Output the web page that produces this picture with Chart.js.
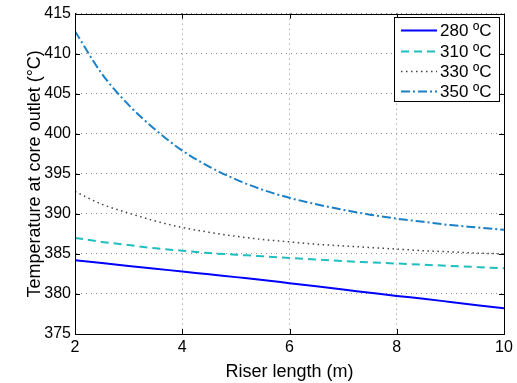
<!DOCTYPE html>
<html>
<head>
<meta charset="utf-8">
<script src="https://cdn.jsdelivr.net/npm/chart.js@4"></script>
<style>
  html, body { margin: 0; padding: 0; background: #fff; }
  #wrap { width: 517px; height: 383px; }
</style>
</head>
<body>
<div id="wrap"><canvas id="chart" width="517" height="383"></canvas></div>
<script>
// Riser length (m)
const riserLength = [2, 2.5, 3, 3.5, 4, 4.5, 5, 5.5, 6, 6.5, 7, 7.5, 8, 8.5, 9, 9.5, 10];

// Core outlet temperature (C) for each inlet temperature
const temp280 = [384.2, 383.85, 383.5, 383.15, 382.8, 382.45, 382.1, 381.75, 381.35, 380.95, 380.55, 380.15, 379.75, 379.4, 379.0, 378.6, 378.2];
const temp310 = [387.0, 386.5, 386.1, 385.7, 385.4, 385.1, 384.9, 384.7, 384.5, 384.3, 384.1, 383.95, 383.8, 383.65, 383.5, 383.35, 383.2];
const temp330 = [392.8, 391.2, 390.1, 389.1, 388.3, 387.7, 387.2, 386.8, 386.5, 386.2, 386.0, 385.8, 385.6, 385.4, 385.25, 385.1, 385.0];
const temp350 = [412.8, 407.5, 403.6, 400.5, 397.9, 395.9, 394.3, 393.0, 392.0, 391.2, 390.5, 389.9, 389.4, 389.0, 388.6, 388.3, 388.0];

const seriesLabels = ['280 ºC', '310 ºC', '330 ºC', '350 ºC'];
const xTicks = [2, 4, 6, 8, 10];
const yTicks = [375, 380, 385, 390, 395, 400, 405, 410, 415];

const FONT = 'Liberation Sans, Arial, Helvetica, sans-serif';

function toPoints(values) {
    return riserLength.map((x, i) => ({ x: x, y: values[i] }));
}

// Box, inner ticks and legend, drawn MATLAB style
const framePlugin = {
    id: 'frame',
    afterDraw(chart) {
        const ctx = chart.ctx;
        const area = chart.chartArea;
        const xs = chart.scales.x;
        const ys = chart.scales.y;

        ctx.save();
        ctx.strokeStyle = '#000';
        ctx.lineWidth = 1;
        ctx.setLineDash([]);

        // inner ticks
        ctx.beginPath();
        for (const t of xTicks) {
            const px = Math.round(xs.getPixelForValue(t)) + 0.5;
            ctx.moveTo(px, area.bottom); ctx.lineTo(px, area.bottom - 5);
            ctx.moveTo(px, area.top); ctx.lineTo(px, area.top + 5);
        }
        for (const t of yTicks) {
            const py = Math.round(ys.getPixelForValue(t)) + 0.5;
            ctx.moveTo(area.left, py); ctx.lineTo(area.left + 5, py);
            ctx.moveTo(area.right, py); ctx.lineTo(area.right - 5, py);
        }
        ctx.stroke();

        // axes box
        ctx.strokeRect(Math.round(area.left) + 0.5, Math.round(area.top) + 0.5,
            Math.round(area.right - area.left), Math.round(area.bottom - area.top));

        // legend
        const lx = 394, ly = 17, lw = 105, lh = 84;
        ctx.fillStyle = '#fff';
        ctx.fillRect(lx, ly, lw, lh);
        ctx.strokeRect(lx + 0.5, ly + 0.5, lw, lh);

        const rows = [30, 51, 71, 91];
        ctx.font = '17px ' + FONT;
        ctx.textBaseline = 'middle';
        ctx.textAlign = 'left';
        chart.data.datasets.forEach((ds, i) => {
            const y = rows[i] + 0.5;
            ctx.strokeStyle = ds.borderColor;
            ctx.lineWidth = ds.borderWidth;
            ctx.setLineDash(ds.borderDash || []);
            ctx.beginPath();
            ctx.moveTo(401, y);
            ctx.lineTo(437, y);
            ctx.stroke();
            ctx.fillStyle = '#000';
            ctx.fillText(ds.label, 440, rows[i] + 1);
        });
        ctx.restore();
    }
};

new Chart(document.getElementById('chart'), {
    type: 'line',
    data: {
        datasets: [
            {
                label: seriesLabels[0],
                data: toPoints(temp280),
                borderColor: '#0000ff',
                borderWidth: 2,
                borderDash: []
            },
            {
                label: seriesLabels[1],
                data: toPoints(temp310),
                borderColor: '#1fbfbf',
                borderWidth: 2,
                borderDash: [8, 5]
            },
            {
                label: seriesLabels[2],
                data: toPoints(temp330),
                borderColor: '#444444',
                borderWidth: 1.5,
                borderDash: [1.5, 3.5]
            },
            {
                label: seriesLabels[3],
                data: toPoints(temp350),
                borderColor: '#1a80c8',
                borderWidth: 2,
                borderDash: [9, 3, 2, 3]
            }
        ]
    },
    options: {
        responsive: false,
        animation: false,
        cubicInterpolationMode: 'monotone',
        elements: { point: { radius: 0 } },
        layout: { padding: { top: 11, right: 13, left: 0, bottom: 0 } },
        plugins: {
            legend: { display: false },
            tooltip: { enabled: false }
        },
        scales: {
            x: {
                type: 'linear',
                min: 2,
                max: 10,
                afterFit(scale) { scale.height = 49; },
                afterBuildTicks(scale) { scale.ticks = xTicks.map(v => ({ value: v })); },
                ticks: {
                    color: '#000',
                    font: { family: FONT, size: 16 },
                    padding: 4,
                    maxRotation: 0
                },
                grid: { color: '#8a8a8a', lineWidth: 1, drawTicks: false },
                border: { display: true, color: '#000', dash: [1, 4] },
                title: {
                    display: true,
                    text: 'Riser length (m)',
                    color: '#000',
                    font: { family: FONT, size: 18 },
                    padding: { top: 2, bottom: 0 }
                }
            },
            y: {
                type: 'linear',
                min: 375,
                max: 415,
                afterFit(scale) { scale.width = 75; },
                afterBuildTicks(scale) { scale.ticks = yTicks.map(v => ({ value: v })); },
                ticks: {
                    color: '#000',
                    font: { family: FONT, size: 16 },
                    padding: 4
                },
                grid: { color: '#8a8a8a', lineWidth: 1, drawTicks: false },
                border: { display: true, color: '#000', dash: [1, 4] },
                title: {
                    display: true,
                    text: 'Temperature at core outlet (°C)',
                    color: '#000',
                    font: { family: FONT, size: 18 },
                    padding: { top: 24, bottom: 0 }
                }
            }
        }
    },
    plugins: [framePlugin]
});
</script>
</body>
</html>
